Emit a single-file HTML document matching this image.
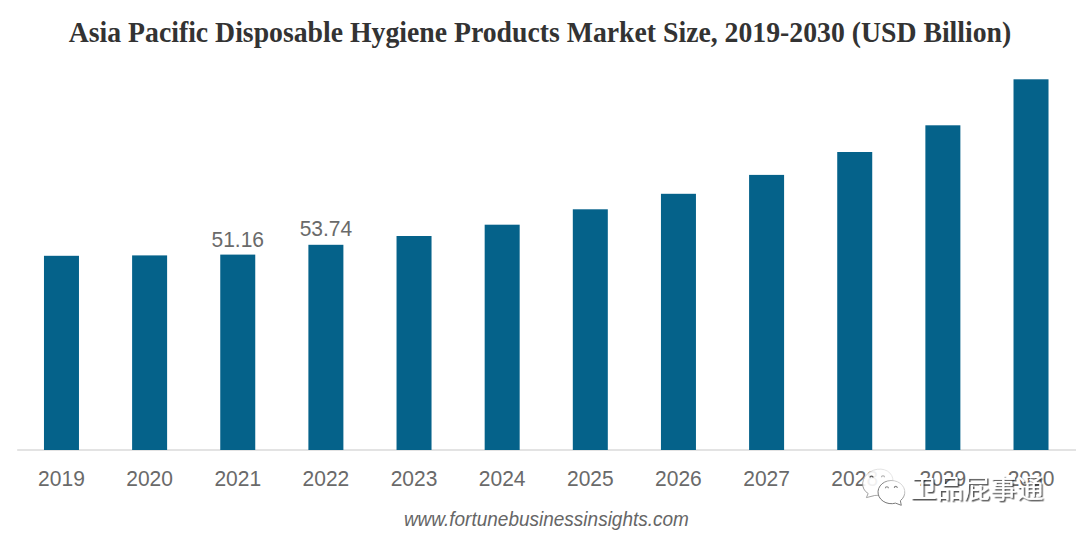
<!DOCTYPE html>
<html><head><meta charset="utf-8"><style>
html,body{margin:0;padding:0;background:#fff;}
body{width:1080px;height:537px;overflow:hidden;position:relative;}
svg{position:absolute;left:0;top:0;}
.title{font-family:"Liberation Serif",serif;font-weight:bold;font-size:27.75px;fill:#333;}
.ax{font-family:"Liberation Sans",sans-serif;font-size:21px;fill:#6a6a6a;}
.url{font-family:"Liberation Sans",sans-serif;font-style:italic;font-size:19px;fill:#666;}
.wm{font-family:"Liberation Sans","Noto Sans CJK SC",sans-serif;font-size:26.7px;}
</style></head><body>
<svg width="1080" height="537" viewBox="0 0 1080 537">
<text class="title" transform="translate(540,41.8) scale(1,1.075)" text-anchor="middle">Asia Pacific Disposable Hygiene Products Market Size, 2019-2030 (USD Billion)</text>
<rect x="17.2" y="449.2" width="1058.8" height="1.6" fill="#dcdcdc"/>
<g fill="#05628a">
<rect x="43.97" y="255.8" width="35" height="194.2"/>
<rect x="132.11" y="255.4" width="35" height="194.6"/>
<rect x="220.25" y="254.6" width="35" height="195.4"/>
<rect x="308.39" y="244.8" width="35" height="205.2"/>
<rect x="396.53" y="236.0" width="35" height="214.0"/>
<rect x="484.67" y="224.7" width="35" height="225.3"/>
<rect x="572.81" y="209.3" width="35" height="240.7"/>
<rect x="660.95" y="193.8" width="35" height="256.2"/>
<rect x="749.09" y="174.9" width="35" height="275.1"/>
<rect x="837.23" y="152.0" width="35" height="298.0"/>
<rect x="925.37" y="125.3" width="35" height="324.7"/>
<rect x="1013.51" y="79.3" width="35" height="370.7"/>
</g>
<g class="ax" text-anchor="middle">
<text transform="translate(61.47,485.9) scale(1,1.075)">2019</text>
<text transform="translate(149.61,485.9) scale(1,1.075)">2020</text>
<text transform="translate(237.75,485.9) scale(1,1.075)">2021</text>
<text transform="translate(325.89,485.9) scale(1,1.075)">2022</text>
<text transform="translate(414.03,485.9) scale(1,1.075)">2023</text>
<text transform="translate(502.17,485.9) scale(1,1.075)">2024</text>
<text transform="translate(590.31,485.9) scale(1,1.075)">2025</text>
<text transform="translate(678.45,485.9) scale(1,1.075)">2026</text>
<text transform="translate(766.59,485.9) scale(1,1.075)">2027</text>
<text transform="translate(854.73,485.9) scale(1,1.075)">2028</text>
<text transform="translate(942.87,485.9) scale(1,1.075)">2029</text>
<text transform="translate(1031.01,485.9) scale(1,1.075)">2030</text>
<text transform="translate(237.75,246.5) scale(1,1.075)">51.16</text>
<text transform="translate(325.89,236.3) scale(1,1.075)">53.74</text>
</g>
<text class="url" transform="translate(546.4,525.7) scale(1,1.075)" text-anchor="middle">www.fortunebusinessinsights.com</text>
<defs>
<filter id="sh" x="-20%" y="-20%" width="140%" height="140%"><feDropShadow dx="1.5" dy="1.5" stdDeviation="0.45" flood-color="#333" flood-opacity="0.8"/></filter>
</defs>
<defs>
<linearGradient id="gb" x1="1" y1="0" x2="0" y2="1"><stop offset="0" stop-color="#e6e6e6"/><stop offset="0.55" stop-color="#cfcfcf"/><stop offset="0.8" stop-color="#8a8a8a"/><stop offset="1" stop-color="#999"/></linearGradient>
<linearGradient id="gs" x1="1" y1="0" x2="0" y2="1"><stop offset="0" stop-color="#f2f2f2"/><stop offset="0.22" stop-color="#c4c4c4"/><stop offset="0.45" stop-color="#7a7a7a"/><stop offset="1" stop-color="#666"/></linearGradient>
</defs>
<g>
<path d="M868.15,493.51 L866.4,497.6 L874.77,495.48 A15.5,12.8 -22 1,0 868.15,493.51 Z" fill="#fff" fill-opacity="0.9" stroke="url(#gb)" stroke-width="0.85"/>
<path d="M870.0,477.6 A1.5,1.5 0 0,1 873.0,477.6" fill="none" stroke="#555" stroke-width="1.4"/>
<path d="M881.5,477.2 A1.5,1.5 0 0,1 884.5,477.2" fill="none" stroke="#aaa" stroke-width="1.1"/>
<path d="M895.54,503.13 L901.3,505.3 L900.37,500.72 A13.4,11.6 0 1,0 895.54,503.13 Z" fill="#fff" stroke="url(#gs)" stroke-width="0.95"/>
<path d="M885.4,488.2 A1.5,1.5 0 0,1 888.4,488.2" fill="none" stroke="#888" stroke-width="1.1"/>
<path d="M894.3,487.9 A1.5,1.5 0 0,1 897.3,487.9" fill="none" stroke="#888" stroke-width="1.1"/>
</g>
<text class="wm" x="910" y="497.5" fill="#fff" filter="url(#sh)">卫品屁事通</text>
</svg>
</body></html>
